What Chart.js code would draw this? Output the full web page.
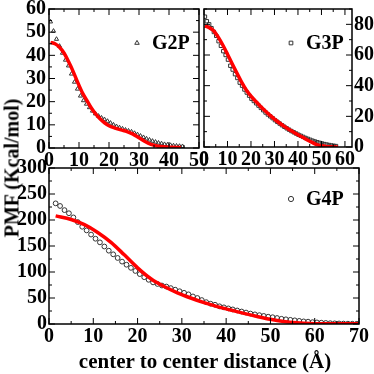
<!DOCTYPE html>
<html>
<head>
<meta charset="utf-8">
<script src="https://cdn.jsdelivr.net/npm/chart.js@4.4.1/dist/chart.umd.min.js"></script>
<style>
  body { margin: 0; background: #fff; }
  #wrap { position: relative; width: 374px; height: 374px; overflow: hidden; }
  canvas { position: absolute; left: 0; top: 0; }
  .lbl { position: absolute; font: bold 20px "Liberation Serif", "Times New Roman", serif; color: #000; white-space: nowrap; }
  #ytitle { left: 12px; top: 168px; transform: translate(-50%, -50%) rotate(-90deg); }
  #xtitle { left: 205px; top: 361px; transform: translate(-50%, -50%); font-size: 21px; }
</style>
</head>
<body>
<div id="wrap">
  <canvas id="c2" width="374" height="374"></canvas>
  <canvas id="c3" width="374" height="374"></canvas>
  <canvas id="c4" width="374" height="374"></canvas>
  <div class="lbl" id="ytitle">PMF (Kcal/mol)</div>
  <div class="lbl" id="xtitle">center to center distance (Å)</div>
</div>
<script>
// G2P
const g2pX = [0.5,1.5,2.5,3.5,4.5,5.5,6.5,7.5,8.5,9.5,10.5,11.5,12.5,13.5,14.5,15.5,16.5,17.5,18.5,19.5,20.5,21.5,22.5,23.5,24.5,25.5,26.5,27.5,28.5,29.5,30.5,31.5,32.5,33.5,34.5,35.5,36.5,37.5,38.5,39.5,40.5,41.5,42.5,43.5,44.5];
const g2pY = [54.5,50.5,47,44,41,38,35.5,32,28.5,25.5,22.5,20.5,19,17.5,16,14.8,13.8,13,12.3,11.6,10.8,10,9.3,8.8,8.3,7.8,7.4,7,6.4,5.8,5.2,4.6,4,3.5,3,2.6,2.2,1.9,1.6,1.4,1.2,1,0.9,0.8,0.7];
const g2pFitX = [0.5,2,3.5,5,6.5,8,9.5,11,12.5,14,15.5,17,18.5,20,22,24,26,28,30,32,34,36,38,41,44];
const g2pFitY = [45.6,45,43.5,41,37.3,33.2,28.5,24.2,20.8,17.5,14.8,12.6,10.9,9.6,8.6,7.8,7.1,6,4.4,2.8,1.6,0.9,0.5,0.3,0.2];
const g2pXTicks = [0,10,20,30,40,50];
const g2pYTicks = [0,10,20,30,40,50,60];

// G3P
const g3pX = [0.4,1.2,2.2,3.2,4.2,5.2,6.2,7.2,8.2,9.2,10.2,11.2,12.2,13.2,14.2,15.2,16.2,17.2,18.2,19.2,20.2,21.2,22.2,23.2,24.2,25.2,26.2,27.2,28.2,29.2,30.2,31.2,32.2,33.2,34.2,35.2,36.2,37.2,38.2,39.2,40.2,41.2,42.2,43.2,44.2,45.2,46.2,47.2,48.2,49.2,50.2,51.2,52.2,53.2,54.2,55.2,56.2];
const g3pY = [85,82,80,77.5,75,72.5,69,66,62.5,60,57,53,50.5,47.5,45,42,40,37.5,35.5,33.5,31.5,30,28.5,27,25.5,24,22.5,21.2,20,18.8,17.5,16.4,15.3,14.2,13.2,12.2,11.3,10.4,9.6,8.8,8,7.3,6.6,5.9,5.3,4.7,4.1,3.6,3.1,2.7,2.3,1.9,1.6,1.3,1,0.8,0.6];
const g3pFitX = [0.3,2,4,6,8,10,12,14,16,18,20,22,24,26,28,30,32,34,36,38,40,42,44,46,48,50,52,54,57];
const g3pFitY = [78.9,78,76,71.8,66.5,60.5,54.3,48.2,42.3,37.2,33.2,29.8,26.6,23.6,20.8,18.2,15.8,13.6,11.6,9.8,8,6.3,4.6,3,1.5,0.8,0.4,0.2,0];
const g3pXTicks = [0,10,20,30,40,50,60];
const g3pYTicks = [0,20,40,60,80];

// G4P
const g4pX = [1.5,2.5,3.5,4.5,5.5,6.5,7.5,8.5,9.5,10.5,11.5,12.5,13.5,14.5,15.5,16.5,17.5,18.5,19.5,20.5,21.5,22.5,23.5,24.5,25.5,26.5,27.5,28.5,29.5,30.5,31.5,32.5,33.5,34.5,35.5,36.5,37.5,38.5,39.5,40.5,41.5,42.5,43.5,44.5,45.5,46.5,47.5,48.5,49.5,50.5,51.5,52.5,53.5,54.5,55.5,56.5,57.5,58.5,59.5,60.5,61.5,62.5,63.5,64.5,65.5,66.5,67.5,68.5,69.5];
const g4pY = [232,227,219,213,205,196,187,180,172,164,157,149,141,134,127,120,114,108,102,96,90,85,80,77,74,72,69,66,63,60,57,53,50,46,42,39,37,34,32,30,28,26,24,22,20,18.5,17,15.5,14,13,11.5,10,9,8,7,6,5,4.5,3.5,3,2.5,2,1.5,1.2,1,0.8,0.6,0.5,0.4];
const g4pFitX = [1.5,5,8,11,14,17,20,23,26,29,32,35,38,41,44,47,50,53,56,59,62,66,70];
const g4pFitY = [208,201,191,176,157,133,108,87,72,60,50,41,33.5,27,20.5,14.5,9,5,2.5,1,0.5,0.3,0.3];
const g4pXTicks = [0,10,20,30,40,50,60,70];
const g4pYTicks = [0,50,100,150,200,250,300];

const FONT = { family: '"Liberation Serif", "Times New Roman", serif', size: 20, weight: 'bold' };
const MARK = '#333';

function zip(xs, ys) {
  return xs.map((x, i) => ({ x, y: ys[i] }));
}

// box with inward ticks on all four sides, plus the inset legend
const frame = {
  id: 'frame',
  afterDatasetsDraw(chart, args, o) {
    const { ctx, chartArea: a, scales: { x, y } } = chart;
    ctx.save();
    ctx.strokeStyle = '#000';
    ctx.lineWidth = 1;
    ctx.beginPath();
    for (let v = x.min; v <= x.max + 1e-9; v += o.xMinor) {
      const px = x.getPixelForValue(v);
      const len = Math.abs(v / o.xMajor - Math.round(v / o.xMajor)) < 1e-6 ? 6 : 3;
      ctx.moveTo(px, a.bottom); ctx.lineTo(px, a.bottom - len);
      ctx.moveTo(px, a.top); ctx.lineTo(px, a.top + len);
    }
    for (let v = y.min; v <= y.max + 1e-9; v += o.yMinor) {
      const py = y.getPixelForValue(v);
      const len = Math.abs(v / o.yMajor - Math.round(v / o.yMajor)) < 1e-6 ? 6 : 3;
      ctx.moveTo(a.left, py); ctx.lineTo(a.left + len, py);
      ctx.moveTo(a.right, py); ctx.lineTo(a.right - len, py);
    }
    ctx.stroke();
    ctx.lineWidth = 1.5;
    ctx.strokeRect(a.left, a.top, a.right - a.left, a.bottom - a.top);

    // legend
    ctx.strokeStyle = MARK;
    ctx.fillStyle = 'rgba(0,0,0,0)';
    ctx.lineWidth = 1;
    Chart.helpers.drawPoint(ctx, { pointStyle: o.style, radius: 2.6, borderWidth: 1, rotation: 0 }, o.lx, o.ly);
    ctx.fillStyle = '#000';
    ctx.font = 'bold 20px "Liberation Serif", "Times New Roman", serif';
    ctx.textBaseline = 'middle';
    ctx.fillText(o.text, o.lx + 15, o.ly + 1);
    ctx.restore();
  }
};

function panel(id, p) {
  return new Chart(document.getElementById(id), {
    type: 'scatter',
    data: {
      datasets: [
        {
          data: zip(p.fitX, p.fitY),
          showLine: true,
          borderColor: '#ff0000',
          borderWidth: 3.5,
          pointRadius: 0,
          cubicInterpolationMode: 'monotone',
          order: 0
        },
        {
          data: zip(p.xs, p.ys),
          pointStyle: p.style,
          pointRadius: 2.4,
          pointBorderWidth: 1,
          borderColor: MARK,
          backgroundColor: 'rgba(0,0,0,0)',
          order: 1
        }
      ]
    },
    options: {
      responsive: false,
      animation: false,
      devicePixelRatio: 1,
      layout: { padding: p.pad },
      plugins: {
        legend: { display: false },
        tooltip: { enabled: false },
        frame: { xMinor: p.xMinor, xMajor: p.xMajor, yMinor: p.yMinor, yMajor: p.yMajor, style: p.style, text: p.text, lx: p.lx, ly: p.ly }
      },
      scales: {
        x: {
          type: 'linear',
          min: p.xMin, max: p.xMax,
          afterBuildTicks: s => { s.ticks = p.xTicks.map(v => ({ value: v })); },
          afterFit: s => { s.height = 24; s.paddingLeft = 0; s.paddingRight = 0; },
          grid: { display: false, drawTicks: false },
          border: { display: false },
          ticks: { font: FONT, color: '#000', padding: 1, maxRotation: 0, autoSkip: false }
        },
        y: {
          type: 'linear',
          position: p.yPos,
          min: 0, max: p.yMax,
          afterBuildTicks: s => { s.ticks = p.yTicks.map(v => ({ value: v })); },
          afterFit: s => { s.width = 40; s.paddingTop = 0; s.paddingBottom = 0; },
          grid: { display: false, drawTicks: false },
          border: { display: false },
          ticks: { font: FONT, color: '#000', padding: p.yPad, autoSkip: false }
        }
      }
    },
    plugins: [frame]
  });
}

panel('c2', {
  xs: g2pX, ys: g2pY, fitX: g2pFitX, fitY: g2pFitY, xTicks: g2pXTicks, yTicks: g2pYTicks,
  style: 'triangle', text: 'G2P', lx: 137, ly: 43,
  xMin: 0, xMax: 50, yMax: 60, xMajor: 10, xMinor: 5, yMajor: 10, yMinor: 5,
  yPos: 'left', yPad: 3,
  pad: { left: 9, top: 9, right: 175, bottom: 374 - 148 - 24 }
});

panel('c3', {
  xs: g3pX, ys: g3pY, fitX: g3pFitX, fitY: g3pFitY, xTicks: g3pXTicks, yTicks: g3pYTicks,
  style: 'rect', text: 'G3P', lx: 291, ly: 43,
  xMin: 0, xMax: 63, yMax: 90, xMajor: 10, xMinor: 5, yMajor: 20, yMinor: 10,
  yPos: 'right', yPad: 2,
  pad: { left: 204, top: 9, right: 374 - 352 - 40, bottom: 374 - 147 - 24 }
});

panel('c4', {
  xs: g4pX, ys: g4pY, fitX: g4pFitX, fitY: g4pFitY, xTicks: g4pXTicks, yTicks: g4pYTicks,
  style: 'circle', text: 'G4P', lx: 291, ly: 199,
  xMin: 0, xMax: 70, yMax: 300, xMajor: 10, xMinor: 5, yMajor: 50, yMinor: 25,
  yPos: 'left', yPad: 2,
  pad: { left: 9, top: 168, right: 374 - 359, bottom: 374 - 324 - 24 }
});
</script>
</body>
</html>
